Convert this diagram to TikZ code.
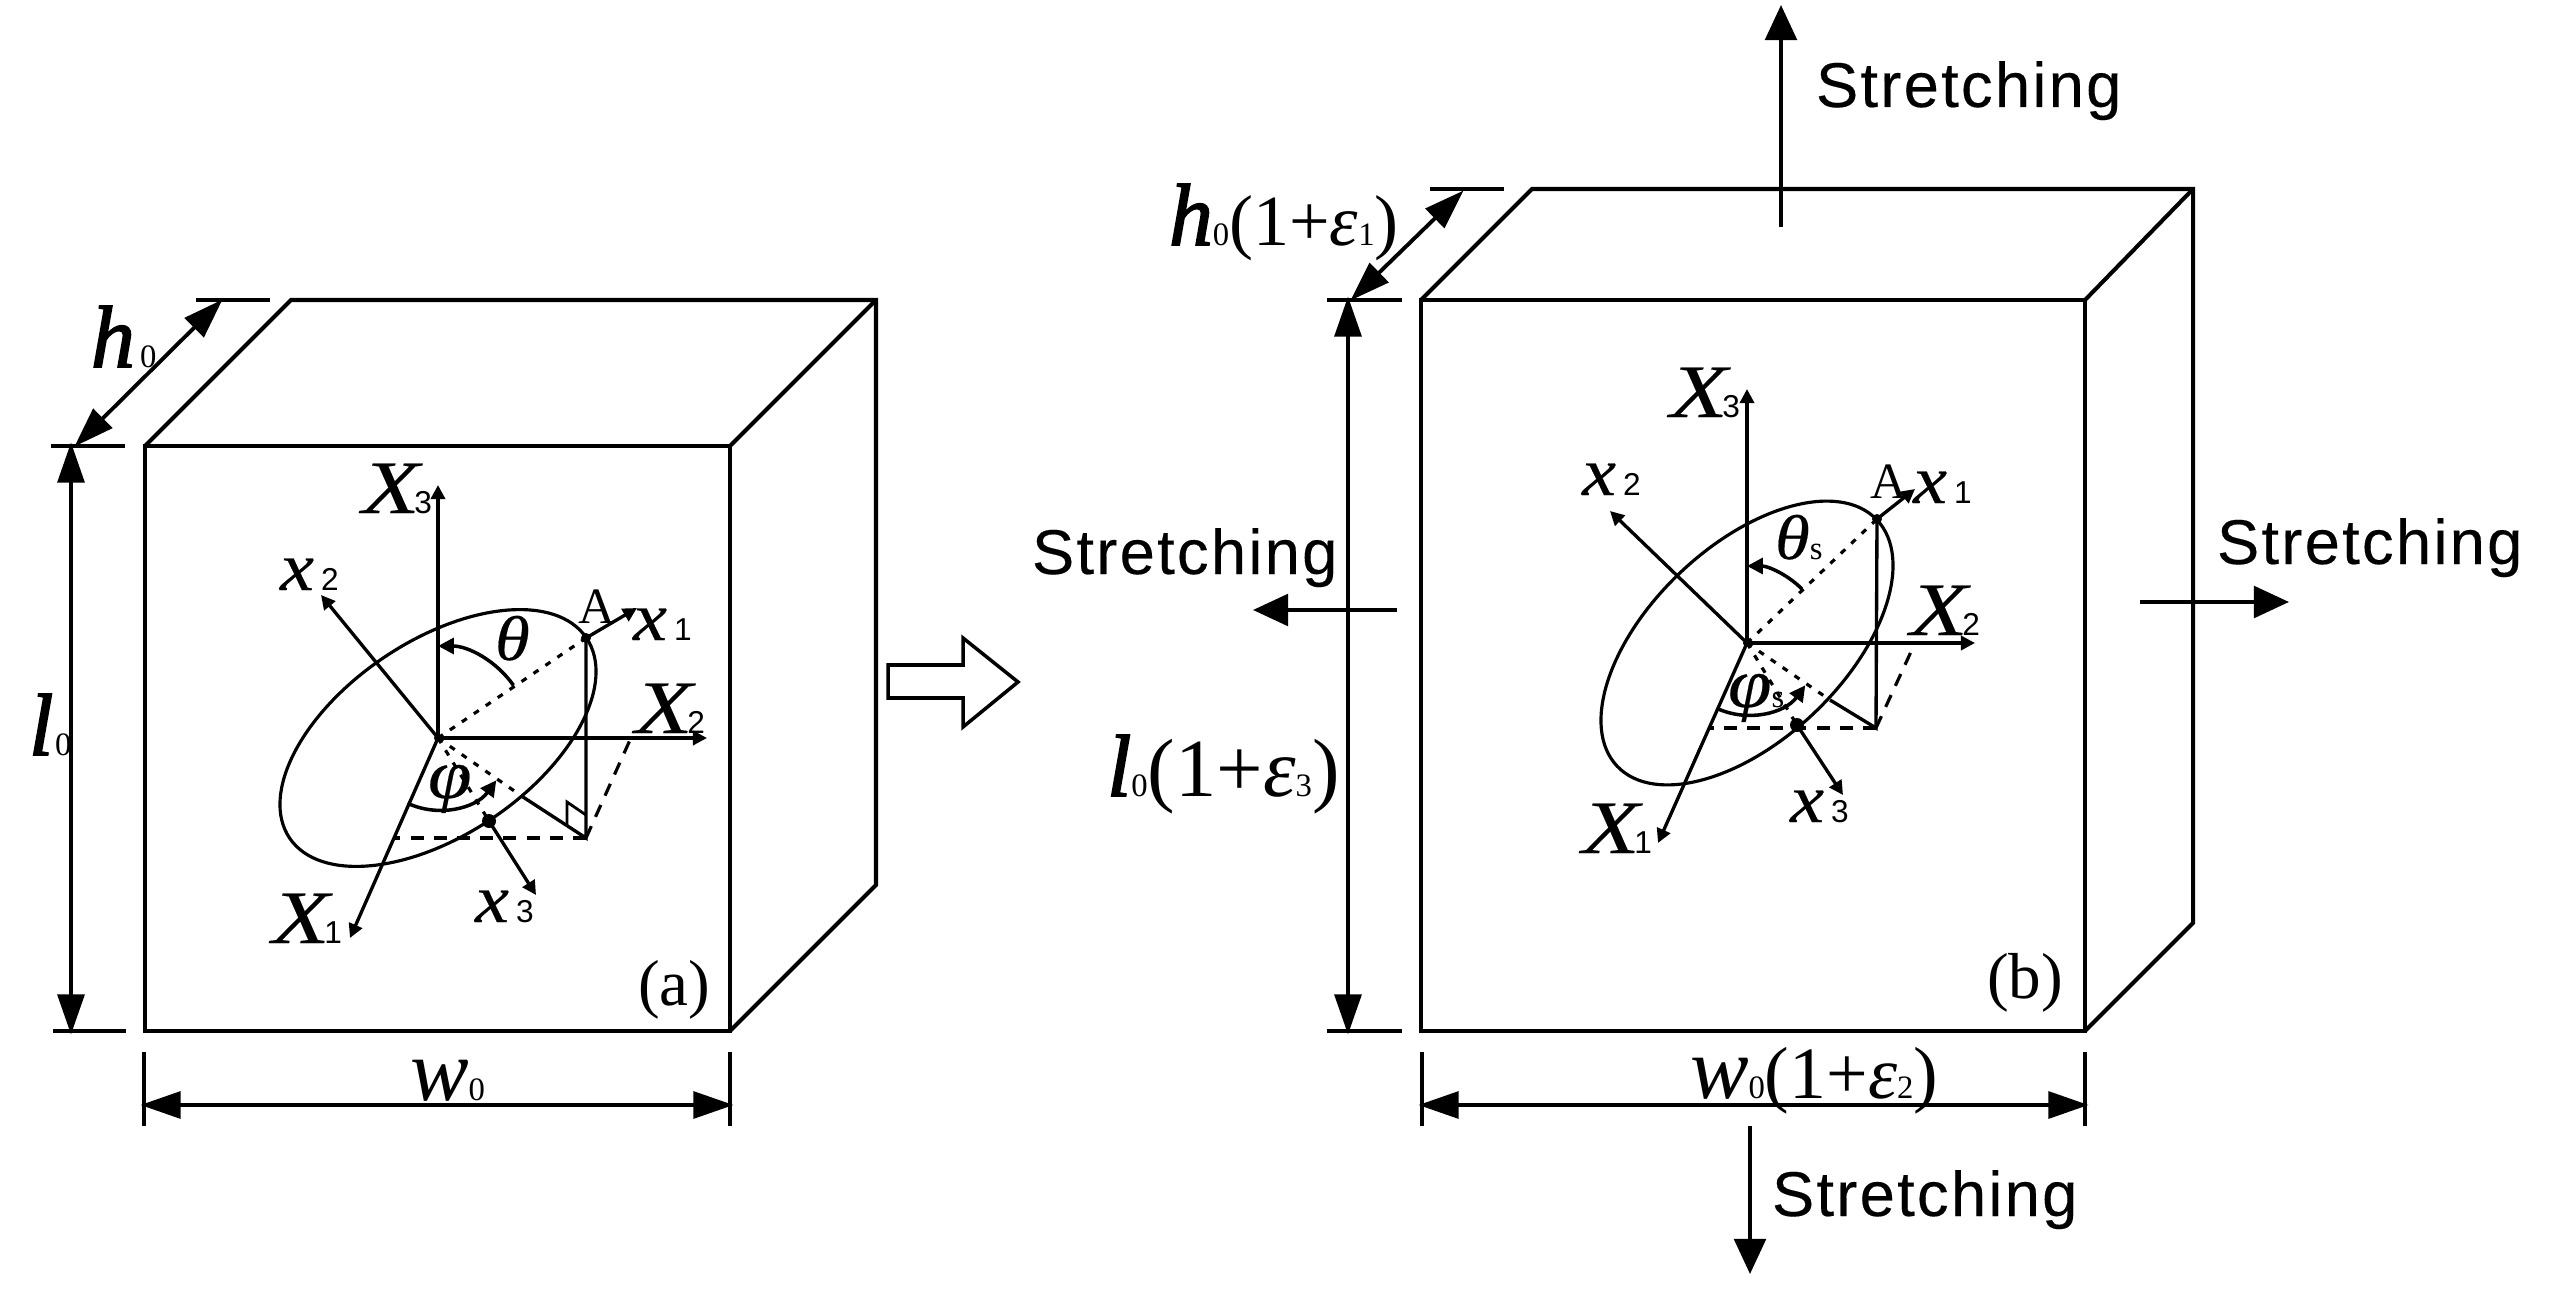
\documentclass[tikz,border=0pt]{standalone}
\usepackage{fontspec}
\setmainfont{Liberation Serif}
\setsansfont{Liberation Sans}
\newfontfamily\stretchfont[LetterSpace=3.6,FakeBold=.25]{Liberation Sans}
\newfontfamily\capfont[FakeStretch=1.25,FakeBold=.15]{Liberation Serif}
\newfontfamily\lowfont[FakeStretch=1.12,FakeBold=.3]{Liberation Serif}
\newfontfamily\dimfont[FakeBold=1.8]{Liberation Serif}
\usetikzlibrary{arrows.meta,calc}
\newcommand{\fsz}[1]{\fontsize{#1}{#1}\selectfont}
\newcommand{\bigX}[1]{{\fsz{21.5}\capfont\itshape X}\kern-1.5pt{\fsz{9}\sffamily #1}}
\newcommand{\smallx}[1]{{\fsz{19.5}\lowfont\itshape x}\kern2pt{\fsz{9}\sffamily #1}}
\newcommand{\strain}[3]{{\fsz{25}#1}{\fsz{9.3}0}{\fsz{#3}(1+{\itshape ε}}{\fsz{9.3}#2}{\fsz{#3})}}
\tikzset{
    lbl/.style={anchor=base west,inner sep=0pt,outer sep=0pt},
    box/.style={line width=1.15pt,line join=miter},
    tick/.style={line width=1.1pt},
    dimline/.style={line width=1.1pt,<->,>={Triangle[length=11.4pt,width=7.6pt]},shorten <=-1pt,shorten >=-1pt},
    pull/.style={line width=1.1pt,->,>={Triangle[length=10pt,width=9pt]}},
    axis/.style={line width=.95pt,->,>={Triangle[length=4pt,width=4pt]}},
    angarc/.style={line width=1pt,->,>={Triangle[length=4.5pt,width=4.5pt]}},
    dotline/.style={line width=.9pt,dash pattern=on 1.7pt off 2.4pt},
    dashline/.style={line width=.9pt,dash pattern=on 3.7pt off 2.9pt},
    stretch/.style={lbl,font=\stretchfont\fsz{18}}
}
\begin{document}
\begin{tikzpicture}
    \useasboundingbox (0,0) rectangle (25.54,-13.02);
    % points of both blocks
    \foreach \n/\x/\y in {
        fa1/1.45/-4.46, fa2/7.30/-4.46, fa3/7.30/-10.31, fa4/1.45/-10.31,
        ba1/2.91/-3.00, ba2/8.76/-3.00, ba3/8.76/-8.85,
        fb1/14.21/-3.00, fb2/20.85/-3.00, fb3/20.85/-10.31, fb4/14.21/-10.31,
        bb1/15.32/-1.89, bb2/21.93/-1.89, bb3/21.93/-9.23,
        Oa/4.38/-7.38, X3a/4.38/-4.85, X2a/7.07/-7.38, X1a/3.50/-9.38,
        x2a/3.21/-5.95, x1a/6.37/-6.08, Aa/5.86/-6.38, Da/4.89/-8.21,
        x3a/5.36/-8.95, Fa/5.86/-8.38, Ha/3.93/-8.38, Ga/6.30/-7.40, Ma/5.23/-7.97,
        Ob/17.47/-6.43, X3b/17.47/-3.89, X2b/19.75/-6.43, X1b/16.58/-8.43,
        x2b/16.10/-5.11, x1b/19.15/-4.89, Ab/18.77/-5.19, Db/17.97/-7.25,
        x3b/18.43/-7.95, Fb/18.76/-7.28, Hb/17.10/-7.28, Gb/19.15/-6.43, Mb/18.30/-7.00}
        \coordinate (\n) at (\x,\y);

    % block (a)
    \draw[box] (fa1) -- (fa2) -- (fa3) -- (fa4) -- cycle;
    \draw[box] (fa1) -- (ba1) -- (ba2) -- (ba3) -- (fa3);
    \draw[box] (fa2) -- (ba2);
    % block (b)
    \draw[box] (fb1) -- (fb2) -- (fb3) -- (fb4) -- cycle;
    \draw[box] (fb1) -- (bb1) -- (bb2) -- (bb3) -- (fb3);
    \draw[box] (fb2) -- (bb2);

    % dimension lines
    \foreach \n/\x/\y/\w in {ta/0.51/-4.46/0.74, tb/1.96/-3.00/0.74, tc/0.53/-10.31/0.73,
                             td/13.27/-3.00/0.75, te/14.30/-1.89/0.74, tf/13.27/-10.31/0.75}{
        \coordinate (\n l) at (\x,\y);
        \coordinate (\n r) at (\x+\w,\y);
        \draw[tick] (\n l) -- (\n r);
    }
    \foreach \n/\x/\y in {ua/1.44/-10.52, ub/7.30/-10.52, uc/14.22/-10.52, ud/20.85/-10.52}{
        \coordinate (\n t) at (\x,\y);
        \coordinate (\n b) at (\x,\y-.74);
        \draw[tick] (\n t) -- (\n b);
    }
    \coordinate (ha1) at (0.77,-4.44);
    \coordinate (ha2) at (2.20,-3.02);
    \coordinate (la1) at (0.71,-4.46);
    \coordinate (la2) at (0.71,-10.31);
    \coordinate (wa1) at (1.44,-11.05);
    \coordinate (wa2) at (7.30,-11.05);
    \coordinate (hb1) at (13.53,-2.98);
    \coordinate (hb2) at (14.61,-1.93);
    \coordinate (lb1) at (13.48,-3.00);
    \coordinate (lb2) at (13.48,-10.31);
    \coordinate (wb1) at (14.22,-11.05);
    \coordinate (wb2) at (20.85,-11.05);
    \foreach \p/\q in {ha1/ha2, la1/la2, wa1/wa2, hb1/hb2, lb1/lb2, wb1/wb2}
        \draw[dimline] (\p) -- (\q);

    % ellipses
    \draw[line width=.9pt,rotate around={34:(Oa)}] (Oa) ellipse [x radius=1.79,y radius=.97];
    \draw[line width=.9pt,rotate around={43.5:(Ob)}] (Ob) ellipse [x radius=1.79,y radius=.97];

    % axes and inner lines
    \foreach \s in {a,b}{
        \draw[axis] (O\s) -- (X3\s);
        \draw[axis] (O\s) -- (X2\s);
        \draw[axis] (O\s) -- (X1\s);
        \draw[axis] (O\s) -- (x2\s);
        \draw[axis] (A\s) -- (x1\s);
        \draw[axis] (D\s) -- (x3\s);
        \draw[line width=.95pt] (A\s) -- (F\s) -- (M\s);
        \draw[dotline] (O\s) -- (A\s);
        \draw[dotline] (O\s) -- (M\s);
        \draw[dotline] (O\s) -- (D\s);
        \draw[dashline] (F\s) -- (H\s);
        \draw[dashline] (F\s) -- (G\s);
        \fill (O\s) circle (.04);
        \fill (A\s) circle (.05);
        \fill (D\s) circle (.07);
    }
    % right angle mark
    \coordinate (ra1) at (5.67,-8.25);
    \coordinate (ra2) at (5.67,-8.02);
    \coordinate (ra3) at (5.86,-8.15);
    \draw[line width=.8pt] (ra1) -- (ra2) -- (ra3);

    % angles
    \coordinate (tha) at ($(Oa)+(35:.92)$);
    \coordinate (thb) at ($(Ob)+(44.5:.77)$);
    \coordinate (pha) at ($(Oa)+(245:.72)$);
    \coordinate (phb) at ($(Ob)+(245:.72)$);
    \draw[angarc] (tha) arc [start angle=35,end angle=90,radius=.92];
    \draw[angarc] (thb) arc [start angle=44.5,end angle=90,radius=.77];
    \draw[angarc] (pha) arc [start angle=245,end angle=324,radius=.72];
    \draw[angarc] (phb) arc [start angle=245,end angle=324,radius=.72];

    % labels of (a)
    \node[lbl] (lX3a) at (3.62,-5.13) {\bigX{3}};
    \node[lbl] (lX2a) at (6.35,-7.33) {\bigX{2}};
    \node[lbl] (lX1a) at (2.72,-9.43) {\bigX{1}};
    \node[lbl] (lx2a) at (2.80,-5.90) {\smallx{2}};
    \node[lbl] (lx1a) at (6.33,-6.40) {\smallx{1}};
    \node[lbl] (lx3a) at (4.75,-9.22) {\smallx{3}};
    \node[lbl,font=\fsz{14.5}] (lAa) at (5.78,-6.23) {A};
    \node[lbl,font=\lowfont\fsz{18}\itshape] (ltha) at (4.95,-6.60) {θ};
    \node[lbl,font=\lowfont\fsz{20}\itshape] (lpha) at (4.28,-7.98) {φ};
    \node[lbl,font=\fsz{18.5}] (lca) at (6.38,-10.05) {(a)};
    \node[lbl] (lha) at (0.91,-3.67) {{\fsz{25}\dimfont\itshape h}\kern1.5pt{\fsz{9.3}0}};
    \node[lbl] (lla) at (0.29,-7.55) {{\fsz{25}\dimfont\itshape l}\kern.5pt{\fsz{9.3}0}};
    \node[lbl] (lwa) at (4.10,-11.00) {{\fsz{25}\itshape w}{\fsz{9.3}0}};

    % labels of (b)
    \node[lbl] (lX3b) at (16.70,-4.17) {\bigX{3}};
    \node[lbl] (lX2b) at (19.10,-6.35) {\bigX{2}};
    \node[lbl] (lX1b) at (15.82,-8.53) {\bigX{1}};
    \node[lbl] (lx2b) at (15.82,-4.95) {\smallx{2}};
    \node[lbl] (lx1b) at (19.13,-5.03) {\smallx{1}};
    \node[lbl] (lx3b) at (17.90,-8.22) {\smallx{3}};
    \node[lbl,font=\fsz{14.5}] (lAb) at (18.70,-4.98) {A};
    \node[lbl] (lthb) at (17.75,-5.59) {{\fsz{18}\lowfont\itshape θ}{\fsz{9.3}s}};
    \node[lbl] (lphb) at (17.28,-7.07) {{\fsz{20}\lowfont\itshape φ}{\fsz{9.3}s}};
    \node[lbl,font=\fsz{18.5}] (lcb) at (19.87,-9.98) {(b)};
    \node[lbl] (lhb) at (11.69,-2.45) {\strain{\dimfont\itshape h}{1}{20.5}};
    \node[lbl] (llb) at (11.07,-7.96) {\strain{\dimfont\itshape l}{3}{23.5}};
    \node[lbl] (lwb) at (16.90,-10.98) {\strain{\itshape w}{2}{21}};

    % stretching arrows
    \coordinate (sn1) at (17.81,-2.27);
    \coordinate (sn2) at (17.81,-.05);
    \coordinate (ss1) at (17.50,-11.26);
    \coordinate (ss2) at (17.50,-12.74);
    \coordinate (sw1) at (13.97,-6.10);
    \coordinate (sw2) at (12.53,-6.10);
    \coordinate (se1) at (21.40,-6.02);
    \coordinate (se2) at (22.89,-6.02);
    \foreach \p/\q in {sn1/sn2, ss1/ss2, sw1/sw2, se1/se2}
        \draw[pull] (\p) -- (\q);
    \node[stretch] (stn) at (18.16,-1.07) {Stretching};
    \node[stretch] (sts) at (17.72,-12.16) {Stretching};
    \node[stretch] (stw) at (10.32,-5.74) {Stretching};
    \node[stretch] (ste) at (22.17,-5.64) {Stretching};

    % block arrow between the two states
    \draw[line width=1pt,line join=miter] (8.88,-6.65) -- (9.63,-6.65) -- (9.63,-6.38) -- (10.18,-6.82)
        -- (9.63,-7.27) -- (9.63,-6.98) -- (8.88,-6.98) -- cycle;
\end{tikzpicture}
\end{document}
